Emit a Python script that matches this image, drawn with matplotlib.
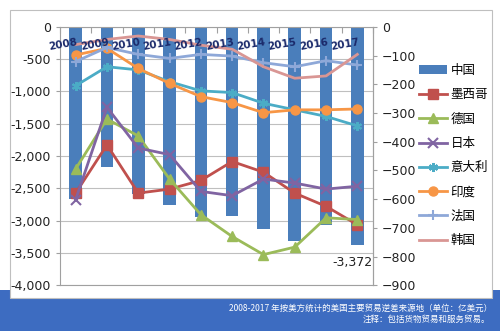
import numpy as np
import matplotlib
matplotlib.use("Agg")
import matplotlib.pyplot as plt
from matplotlib.patches import Rectangle, Patch
from matplotlib.lines import Line2D

plt.rcParams['font.family'] = ['DejaVu Sans', 'Noto Sans CJK SC']

years = ['2008', '2009', '2010', '2011', '2012', '2013', '2014', '2015', '2016', '2017']
# China on the left axis (亿美元)
china = [-2657, -2166, -2588, -2758, -2939, -2928, -3129, -3315, -3067, -3372]
# the rest on the right axis
mexico = [-579, -411, -579, -565, -535, -469, -506, -579, -625, -689]
germany = [-495, -321, -380, -530, -654, -730, -793, -767, -665, -671]
japan = [-602, -280, -422, -445, -573, -588, -530, -544, -565, -555]
italy = [-205, -139, -150, -191, -223, -229, -266, -289, -312, -345]
india = [-98, -75, -145, -197, -243, -264, -299, -289, -289, -286]
france = [-121, -72, -96, -110, -96, -102, -125, -139, -118, -133]
korea = [-62, -44, -32, -44, -64, -78, -139, -179, -171, -96]

series = [
    ('墨西哥', mexico, '#C0504D', 's'),
    ('德国', germany, '#9BBB59', '^'),
    ('日本', japan, '#8064A2', 'x'),
    ('意大利', italy, '#4BACC6', (6, 2, 0)),
    ('印度', india, '#F79646', 'o'),
    ('法国', france, '#8EA8D8', '+'),
    ('韩国', korea, '#D99694', None),
]

fig = plt.figure(figsize=(5, 3.31), dpi=100)

# blue band at the bottom and the white chart box
fig.patches.append(Rectangle((0, 0), 1, 41 / 331, transform=fig.transFigure,
                             facecolor='#3D6CC1', edgecolor='none', zorder=-3))
fig.patches.append(Rectangle((10 / 500, 33 / 331), 482 / 500, 288 / 331,
                             transform=fig.transFigure, facecolor='white',
                             edgecolor='#BFBFBF', linewidth=0.8, zorder=-2))

ax = fig.add_axes([0.12, 0.138, 0.626, 0.781])
ax.set_facecolor('none')
x = np.arange(len(years))
ax.bar(x, china, width=0.4, color='#4A7EBB', zorder=2)
ax.set_xlim(-0.5, len(years) - 0.5)
ax.set_ylim(-4000, 0)
ax.set_yticks(np.arange(-4000, 1, 500))
ax.yaxis.set_major_formatter(matplotlib.ticker.FuncFormatter(lambda v, p: f'{int(v):,}'))
ax.grid(axis='y', color='#BFBFBF', linewidth=0.8, zorder=0)
ax.set_axisbelow(True)
ax.xaxis.tick_top()
ax.set_xticks(np.arange(-0.5, len(years)))
ax.set_xticklabels([])
ax.tick_params(axis='x', direction='in', length=4, color='#A0A0A0')
ax.tick_params(axis='y', length=3, color='#A0A0A0', labelsize=9, colors='#222222')
for s in ax.spines.values():
    s.set_color('#A0A0A0')
    s.set_linewidth(0.8)

ax2 = ax.twinx()
ax2.set_ylim(-900, 0)
ax2.set_yticks(np.arange(-900, 1, 100))
ax2.tick_params(axis='y', length=3, color='#A0A0A0', labelsize=9, colors='#222222')
for s in ax2.spines.values():
    s.set_visible(False)
ax2.spines['right'].set_visible(True)
ax2.spines['right'].set_color('#A0A0A0')

handles = [Patch(facecolor='#4A7EBB', label='中国')]
for name, vals, col, mk in series:
    ms = 7 if mk in ('x', '+') else 6.5
    mew = 1.5 if mk in ('x', '+', (6, 2, 0)) else 1
    ax2.plot(x, vals, color=col, marker=mk, markersize=ms, linewidth=2,
             markeredgewidth=mew, label=name, zorder=3)
    handles.append(Line2D([], [], color=col, marker=mk, markersize=ms,
                          linewidth=2, markeredgewidth=mew, label=name))

for i, yr in enumerate(years):
    ax2.annotate(yr, (i, 0), xytext=(-9, -13), textcoords='offset points',
                 ha='center', va='center', rotation=10, fontsize=7.5,
                 fontweight='bold', color='#1B2A6B', zorder=6)
ax2.annotate(f'{china[-1]:,}', (9, china[-1] * 900 / 4000), xytext=(-3.6, -13),
             textcoords='offset points', ha='center', va='center',
             fontsize=9, color='#222222')

fig.legend(handles=handles, loc='upper left', bbox_to_anchor=(0.826, 0.825),
           frameon=False, handlelength=2.2, labelspacing=0.9,
           handletextpad=0.3, borderpad=0,
           prop={'family': ['Noto Sans CJK SC', 'DejaVu Sans'], 'size': 9})

fig.text(0.984, 23 / 331, '2008-2017 年按美方统计的美国主要贸易逆差来源地（单位：亿美元）',
         ha='right', va='center', fontsize=6.1, color='white',
         family=['Noto Sans CJK SC', 'DejaVu Sans'])
fig.text(0.980, 12 / 331, '注释：包括货物贸易和服务贸易。',
         ha='right', va='center', fontsize=6.1, color='white',
         family=['Noto Sans CJK SC', 'DejaVu Sans'])

fig.savefig('out.png', dpi=100)
